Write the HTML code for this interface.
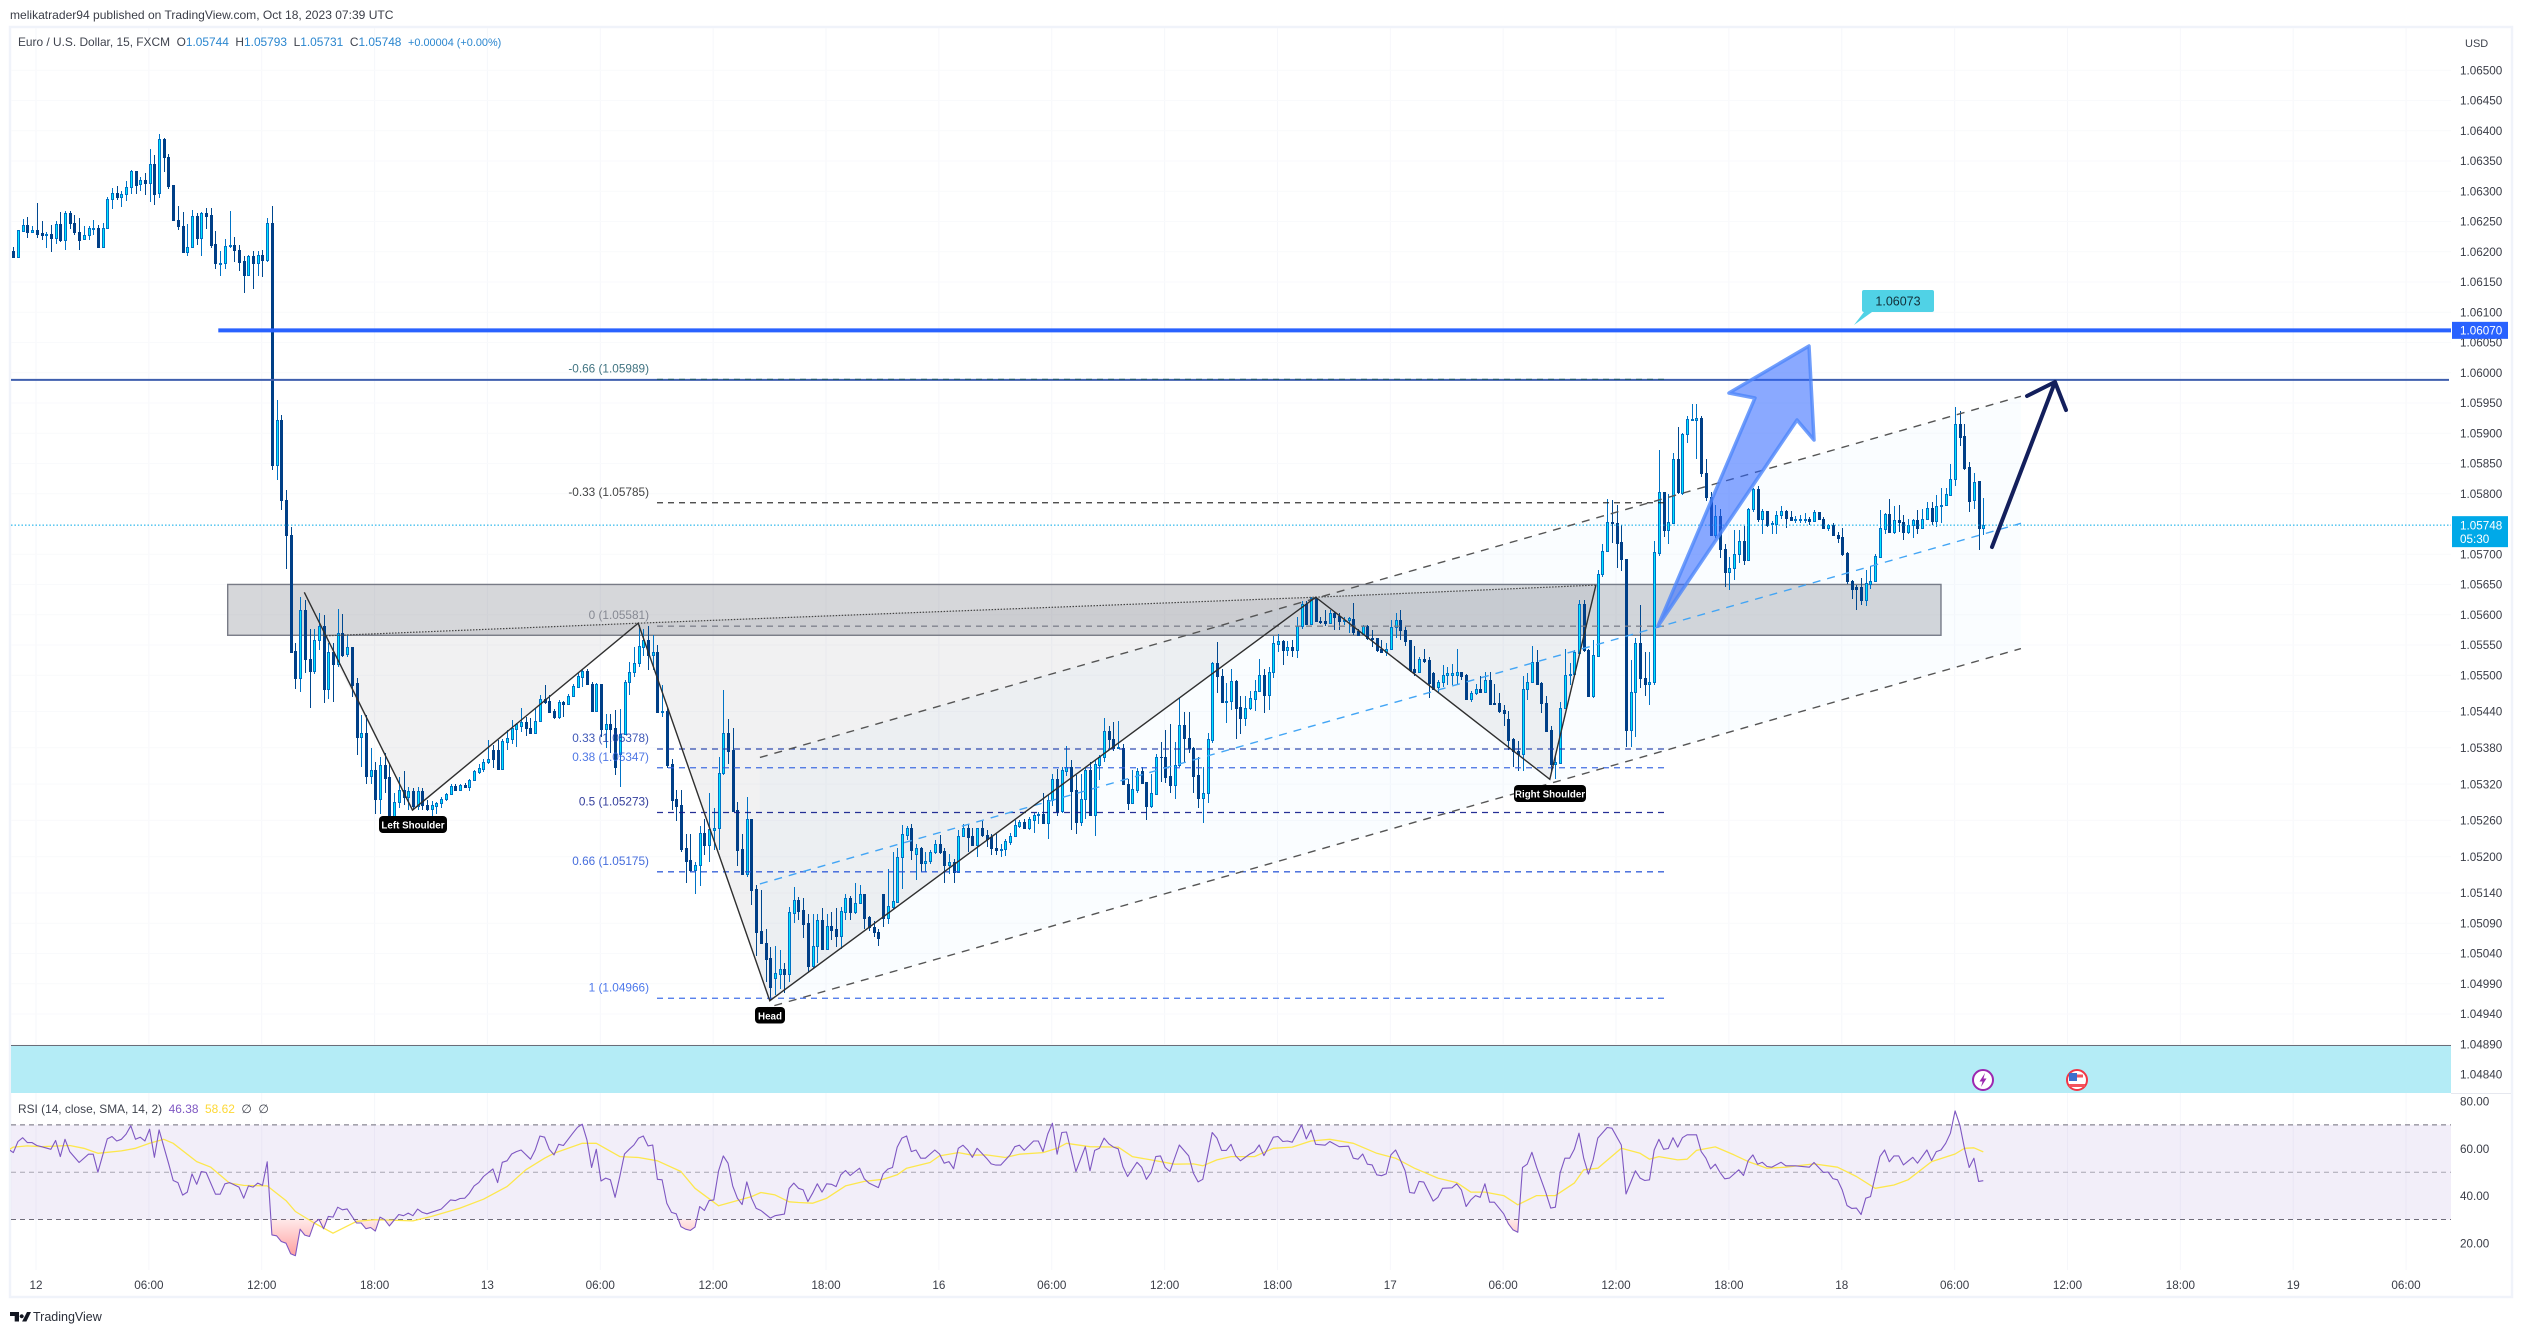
<!DOCTYPE html>
<html lang="en">
<head>
<meta charset="utf-8">
<title>EUR/USD 15m chart</title>
<style>
html,body{margin:0;padding:0;background:#fff;width:2522px;height:1334px;overflow:hidden}
svg{display:block}
text{font-family:"Liberation Sans",sans-serif}
</style>
</head>
<body>
<svg id="chart" xmlns="http://www.w3.org/2000/svg" width="2522" height="1334" viewBox="0 0 2522 1334">
  <defs>
    <linearGradient id="oversoldGrad" gradientUnits="userSpaceOnUse" x1="0" x2="0" y1="1219" y2="1260">
      <stop offset="0" stop-color="#ff5252" stop-opacity="0.12"/>
      <stop offset="1" stop-color="#ff5252" stop-opacity="0.6"/>
    </linearGradient>
    <clipPath id="belowThirty"><rect id="belowThirtyRect" x="10" y="1219" width="2441" height="60"/></clipPath>
    <clipPath id="mainClip"><rect x="10" y="28" width="2441" height="1065"/></clipPath>
    <clipPath id="rsiClip"><rect x="10" y="1094" width="2441" height="176"/></clipPath>
  </defs>

  <rect x="0" y="0" width="2522" height="1334" fill="#ffffff"/>
  <text x="10" y="19" font-size="12.05" fill="#3a3d47">melikatrader94 published on TradingView.com, Oct 18, 2023 07:39 UTC</text>
  <rect x="10" y="27" width="2502" height="1270" fill="none" stroke="#f0f3fa" stroke-width="2.4"/>

  <g id="grid"></g>
  <rect x="11" y="1045" width="2440" height="48" fill="#b4ecf6"/>
  <line x1="11" x2="2451" y1="1045.5" y2="1045.5" stroke="#6a6d78" stroke-width="1"/>
  <line x1="2451" x2="2511" y1="1093.5" y2="1093.5" stroke="#e6e8ef" stroke-width="1"/>

  <g id="fills" clip-path="url(#mainClip)"></g>
  <g id="candles" clip-path="url(#mainClip)" shape-rendering="crispEdges"></g>
  <g id="levels" clip-path="url(#mainClip)"></g>
  <g id="drawings" clip-path="url(#mainClip)"></g>

  <polygon points="1658,626 1755,398 1729,393 1809,346 1814,440 1797,420" fill="#2962ff" fill-opacity="0.55" stroke="#4d86fa" stroke-opacity="0.8" stroke-width="3.5" stroke-linejoin="round"/>
  <path d="M1992 547L2055 382M2027 396L2055 382L2066 410" fill="none" stroke="#131f5c" stroke-width="4" stroke-linecap="round" stroke-linejoin="round"/>

  <g>
    <polygon points="1864,312 1872,312 1854,325" fill="#50d2e6"/>
    <rect x="1862" y="290" width="72" height="22" rx="2" fill="#50d2e6"/>
    <text x="1898" y="305.5" font-size="12.5" fill="#12303a" text-anchor="middle">1.06073</text>
  </g>

  <g>
    <rect x="379" y="816" width="68" height="17" rx="4" fill="#000"/>
    <text x="413" y="828.5" font-size="9.8" font-weight="bold" fill="#fff" text-anchor="middle">Left Shoulder</text>
  </g>
  <g>
    <rect x="755" y="1007" width="30" height="16.5" rx="4" fill="#000"/>
    <text x="770" y="1019.5" font-size="9.8" font-weight="bold" fill="#fff" text-anchor="middle">Head</text>
  </g>
  <g>
    <rect x="1514" y="785" width="72" height="17" rx="4" fill="#000"/>
    <text x="1550" y="797.5" font-size="9.8" font-weight="bold" fill="#fff" text-anchor="middle">Right Shoulder</text>
  </g>

  <text x="18" y="46" font-size="11.9" fill="#3f434e" xml:space="preserve">Euro / U.S. Dollar, 15, FXCM  O<tspan fill="#2a86cf">1.05744</tspan>  H<tspan fill="#2a86cf">1.05793</tspan>  L<tspan fill="#2a86cf">1.05731</tspan>  C<tspan fill="#2a86cf">1.05748</tspan>  <tspan fill="#2a86cf" font-size="10.9">+0.00004 (+0.00%)</tspan></text>

  <g>
    <circle cx="1983" cy="1080" r="10" fill="#fff" stroke="#9c27b0" stroke-width="2"/>
    <path d="M1985 1073L1979.5 1081.5H1982.5L1981 1087L1986.5 1078.5H1983.5Z" fill="#9c27b0"/>
  </g>
  <g>
    <circle cx="2077" cy="1080" r="10" fill="#fff" stroke="#f23645" stroke-width="2"/>
    <rect x="2072" y="1074.5" width="11" height="3" fill="#f4525c"/>
    <rect x="2069" y="1084" width="16" height="3" fill="#f4525c"/>
    <rect x="2069" y="1073" width="8" height="8" fill="#3d6fcc"/>
  </g>

  <g id="rsiPane" clip-path="url(#rsiClip)"></g>
  <text x="18" y="1113" font-size="11.9" fill="#3f434e" xml:space="preserve">RSI (14, close, SMA, 14, 2)  <tspan fill="#7e57c2">46.38</tspan>  <tspan fill="#fdd835">58.62</tspan>  ∅  ∅</text>

  <g id="priceAxis"></g>
  <g id="rsiAxis"></g>
  <g id="timeAxis"></g>
  <text x="2465" y="47" font-size="11" fill="#3f434e">USD</text>

  <g>
    <path transform="translate(10 1312)" fill="#131722" d="M0 0h9v9.5H4.7V4H0zM17 0h4l-4.6 9.5h-4.3zM11.7 2.2a2 2 0 1 0 .01 0z"/>
    <text x="33" y="1321" font-size="12.5" fill="#2a2e39">TradingView</text>
  </g>
</svg>

<script>
// Prices are in units of 0.00001 above 1.00000 (e.g. 5744 = 1.05744).
const opens = [
6201,6192,6235,6244,6233,6236,6231,6227,6229,6222,
6246,6219,6264,6247,6232,6221,6227,6238,6239,6207,
6239,6287,6297,6290,6295,6307,6333,6312,6318,6313,
6345,6297,6386,6357,6311,6252,6243,6199,6207,6259,
6222,6264,6261,6212,6181,6181,6209,6211,6203,6185,
6161,6193,6182,6195,6187,6247,5847,5922,5790,5732,
5540,5496,5607,5527,5507,5558,5582,5478,5538,5519,
5569,5535,5546,5487,5398,5404,5333,5343,5296,5351,
5331,5266,5290,5311,5299,5308,5284,5308,5286,5279,
5284,5288,5295,5303,5317,5311,5318,5315,5327,5340,
5345,5356,5376,5376,5345,5390,5395,5411,5416,5422,
5412,5404,5425,5460,5457,5441,5431,5456,5453,5466,
5481,5497,5507,5485,5441,5485,5411,5420,5412,5369,
5403,5488,5506,5520,5547,5558,5533,5538,5440,5441,
5353,5295,5285,5214,5194,5178,5186,5240,5219,5244,
5248,5339,5405,5376,5277,5212,5172,5263,5146,5077,
5058,5032,5000,5006,5014,5006,5107,5128,5112,5090,
5020,5053,5095,5048,5085,5080,5069,5109,5131,5109,
5123,5138,5100,5084,5076,5139,5099,5117,5125,5199,
5236,5248,5205,5215,5190,5193,5207,5221,5209,5187,
5192,5175,5235,5247,5234,5219,5247,5236,5233,5215,
5212,5212,5225,5235,5251,5257,5248,5261,5270,5270,
5256,5293,5328,5275,5342,5348,5310,5258,5296,5343,
5269,5352,5364,5407,5394,5381,5380,5320,5289,5311,
5342,5323,5283,5303,5365,5365,5333,5319,5351,5418,
5397,5380,5335,5297,5305,5393,5520,5498,5455,5458,
5490,5447,5430,5445,5461,5474,5500,5468,5506,5552,
5557,5542,5546,5542,5582,5618,5585,5627,5590,5590,
5587,5602,5598,5591,5591,5593,5573,5568,5582,5562,
5561,5543,5539,5544,5579,5591,5574,5558,5510,5506,
5527,5525,5503,5481,5488,5501,5501,5501,5506,5500,
5461,5470,5477,5473,5492,5454,5454,5442,5427,5394,
5374,5370,5478,5488,5521,5487,5454,5409,5353,5355,
5445,5501,5502,5537,5617,5542,5466,5532,5668,5706,
5754,5752,5720,5692,5410,5473,5553,5496,5486,5489,
5702,5802,5740,5752,5858,5801,5898,5922,5922,5925,
5834,5795,5732,5763,5708,5671,5678,5700,5721,5691,
5775,5807,5759,5771,5750,5750,5764,5772,5761,5757,
5757,5758,5759,5755,5769,5759,5744,5748,5731,5728,
5702,5656,5645,5645,5624,5651,5655,5696,5742,5766,
5737,5756,5754,5737,5749,5756,5744,5759,5776,5755,
5779,5781,5798,5825,5916,5895,5844,5790,5821,5744];
const highs = [
6208,6236,6254,6258,6243,6281,6251,6232,6244,6251,
6266,6268,6268,6261,6256,6243,6242,6253,6244,6248,
6290,6305,6309,6301,6317,6335,6334,6324,6330,6370,
6360,6395,6388,6362,6311,6276,6266,6246,6269,6264,
6265,6273,6273,6235,6201,6221,6268,6225,6211,6193,
6195,6201,6201,6203,6256,6276,5955,5930,5806,5745,
5553,5629,5624,5577,5577,5602,5599,5553,5553,5610,
5601,5566,5546,5495,5434,5435,5379,5357,5365,5371,
5354,5305,5332,5342,5315,5313,5315,5313,5293,5292,
5291,5298,5305,5320,5320,5320,5321,5328,5344,5354,
5362,5393,5384,5393,5395,5409,5426,5421,5445,5431,
5429,5445,5467,5484,5467,5444,5459,5458,5469,5485,
5504,5510,5511,5489,5487,5485,5436,5436,5442,5444,
5492,5521,5547,5583,5577,5581,5566,5550,5484,5445,
5361,5310,5310,5238,5238,5192,5250,5262,5306,5280,
5365,5476,5428,5412,5291,5238,5299,5263,5153,5145,
5080,5051,5052,5045,5024,5117,5150,5134,5131,5106,
5105,5106,5116,5106,5108,5116,5117,5139,5135,5156,
5153,5139,5102,5093,5081,5139,5179,5208,5215,5252,
5251,5254,5221,5216,5208,5211,5228,5236,5214,5205,
5196,5244,5254,5254,5248,5248,5259,5244,5237,5237,
5221,5230,5240,5261,5261,5262,5266,5272,5274,5305,
5302,5337,5345,5349,5383,5360,5335,5337,5349,5357,
5360,5368,5430,5416,5423,5424,5386,5328,5343,5346,
5349,5323,5337,5370,5390,5409,5419,5390,5462,5440,
5440,5382,5365,5349,5404,5522,5555,5511,5487,5511,
5492,5466,5466,5474,5492,5526,5511,5513,5564,5568,
5558,5557,5558,5597,5622,5623,5629,5630,5597,5608,
5607,5605,5602,5597,5597,5619,5577,5583,5583,5575,
5561,5559,5554,5591,5602,5607,5580,5558,5548,5530,
5543,5530,5506,5492,5517,5514,5519,5544,5506,5502,
5474,5485,5499,5506,5506,5486,5470,5451,5441,5396,
5392,5498,5503,5548,5541,5488,5466,5416,5370,5455,
5544,5520,5542,5625,5625,5543,5559,5674,5717,5792,
5790,5781,5748,5692,5525,5561,5616,5539,5539,5721,
5872,5803,5800,5867,5910,5900,5928,5949,5948,5928,
5858,5803,5781,5774,5717,5696,5740,5740,5747,5776,
5809,5813,5774,5772,5755,5772,5780,5773,5772,5763,
5765,5768,5762,5773,5770,5762,5750,5751,5737,5744,
5703,5657,5649,5660,5674,5680,5701,5773,5768,5791,
5779,5781,5765,5758,5759,5773,5774,5787,5787,5798,
5810,5809,5849,5943,5936,5915,5852,5834,5821,5793];
const lows = [
6189,6189,6235,6223,6232,6222,6219,6206,6200,6213,
6216,6202,6238,6228,6203,6220,6220,6228,6206,6206,
6238,6271,6286,6274,6283,6296,6296,6301,6294,6282,
6277,6289,6331,6303,6252,6236,6199,6193,6206,6211,
6193,6238,6206,6172,6160,6172,6206,6183,6168,6132,
6160,6139,6160,6158,6183,5839,5823,5773,5676,5539,
5478,5472,5503,5445,5502,5542,5454,5460,5456,5514,
5530,5530,5464,5368,5348,5320,5320,5271,5271,5305,
5258,5263,5280,5285,5277,5277,5277,5277,5276,5263,
5271,5281,5292,5302,5310,5310,5313,5309,5325,5337,
5340,5354,5347,5345,5345,5376,5387,5382,5406,5399,
5403,5404,5425,5453,5437,5428,5428,5431,5451,5465,
5480,5481,5485,5440,5440,5398,5379,5372,5335,5316,
5401,5467,5497,5514,5531,5508,5508,5440,5431,5346,
5277,5259,5208,5156,5175,5139,5152,5203,5192,5211,
5211,5335,5353,5274,5185,5170,5166,5120,5036,5056,
4993,4963,4971,4982,4974,4993,5091,5095,5065,5010,
5015,5025,5048,5047,5063,5051,5048,5095,5095,5106,
5122,5080,5078,5068,5053,5084,5089,5112,5123,5146,
5228,5194,5162,5174,5174,5188,5205,5205,5156,5172,
5156,5174,5233,5208,5218,5200,5232,5216,5203,5203,
5199,5201,5219,5233,5248,5247,5244,5239,5254,5254,
5230,5283,5268,5272,5333,5244,5237,5251,5262,5269,
5235,5326,5356,5376,5375,5379,5318,5277,5288,5306,
5321,5260,5281,5302,5324,5321,5306,5295,5348,5357,
5372,5305,5280,5256,5289,5388,5470,5454,5421,5443,
5394,5403,5416,5442,5441,5473,5438,5443,5496,5539,
5517,5532,5530,5528,5577,5583,5583,5588,5585,5581,
5586,5574,5574,5583,5570,5566,5565,5566,5559,5547,
5539,5536,5531,5543,5561,5558,5548,5506,5498,5503,
5520,5462,5476,5473,5480,5484,5484,5484,5492,5460,
5456,5467,5470,5471,5452,5453,5437,5416,5376,5349,
5342,5342,5459,5487,5484,5437,5407,5338,5328,5354,
5444,5484,5500,5536,5539,5465,5462,5532,5663,5704,
5718,5677,5673,5382,5382,5398,5479,5466,5451,5483,
5697,5729,5717,5751,5800,5798,5884,5922,5858,5827,
5788,5732,5726,5693,5646,5641,5657,5685,5682,5690,
5770,5754,5734,5745,5734,5734,5759,5744,5756,5752,
5752,5752,5748,5754,5758,5741,5739,5730,5719,5697,
5650,5626,5607,5616,5614,5642,5654,5696,5733,5736,
5734,5737,5723,5734,5727,5733,5743,5758,5748,5745,
5752,5779,5797,5813,5879,5839,5769,5774,5707,5731];
const closes = [
6192,6236,6244,6233,6236,6230,6227,6230,6222,6246,
6219,6264,6247,6232,6220,6227,6239,6239,6207,6239,
6287,6297,6290,6295,6307,6333,6311,6318,6313,6345,
6296,6386,6356,6309,6252,6242,6199,6208,6259,6222,
6264,6259,6211,6181,6181,6209,6211,6202,6183,6162,
6193,6182,6194,6187,6247,5847,5922,5790,5732,5539,
5496,5607,5526,5507,5558,5582,5477,5538,5519,5569,
5534,5546,5484,5398,5404,5333,5343,5296,5351,5330,
5266,5290,5311,5299,5308,5284,5308,5285,5279,5285,
5288,5295,5303,5317,5311,5318,5315,5327,5341,5346,
5356,5362,5362,5345,5391,5396,5412,5419,5422,5412,
5404,5425,5460,5455,5440,5431,5456,5453,5466,5482,
5499,5507,5486,5441,5485,5411,5420,5411,5349,5403,
5489,5506,5520,5548,5558,5533,5538,5440,5441,5351,
5294,5284,5213,5193,5178,5187,5240,5219,5245,5248,
5339,5404,5375,5276,5211,5172,5263,5145,5075,5057,
5031,4984,5007,5014,5006,5108,5128,5111,5089,5020,
5053,5095,5048,5085,5079,5069,5110,5131,5109,5124,
5138,5099,5084,5076,5066,5099,5118,5126,5199,5237,
5248,5211,5215,5190,5193,5207,5221,5207,5187,5192,
5175,5235,5247,5233,5219,5247,5236,5230,5215,5211,
5212,5226,5235,5252,5257,5248,5262,5269,5270,5256,
5293,5328,5275,5343,5348,5309,5258,5296,5343,5269,
5353,5365,5407,5394,5380,5381,5320,5289,5312,5342,
5322,5283,5305,5364,5364,5331,5319,5351,5418,5397,
5379,5334,5297,5305,5394,5520,5498,5455,5458,5490,
5446,5430,5445,5462,5474,5500,5468,5506,5553,5557,
5542,5546,5542,5582,5618,5585,5627,5590,5588,5587,
5602,5597,5590,5592,5595,5572,5566,5581,5561,5560,
5542,5539,5544,5579,5591,5574,5557,5509,5506,5526,
5523,5487,5478,5488,5501,5503,5503,5506,5499,5461,
5470,5477,5472,5492,5453,5453,5441,5437,5393,5374,
5370,5478,5488,5521,5485,5454,5408,5353,5357,5445,
5501,5502,5538,5617,5542,5466,5533,5668,5706,5754,
5752,5719,5692,5410,5473,5553,5496,5486,5489,5703,
5802,5740,5753,5858,5802,5898,5923,5923,5925,5834,
5795,5732,5763,5708,5671,5678,5700,5721,5690,5775,
5807,5759,5771,5749,5751,5764,5772,5760,5757,5758,
5759,5759,5755,5769,5759,5744,5748,5731,5727,5701,
5655,5642,5643,5624,5652,5655,5697,5743,5766,5737,
5756,5754,5737,5749,5756,5744,5759,5776,5755,5779,
5782,5799,5825,5916,5894,5843,5788,5820,5744,5748];

const rsiBars = [
-1,0,1,2,3,4,5,6,8,9,
10,11,12,14,16,17,18,20,21,22,
23,24,25,26,27,28,29,30,31,32,
33,34,35,36,37,38,39,40,41,43,
44,45,46,48,49,50,51,52,53,54,
55,56,57,58,59,60,61,62,63,64,
65,66,67,68,69,70,71,73,74,75,
76,77,78,79,80,82,83,84,85,86,
87,88,89,91,93,94,95,96,97,98,
99,100,102,103,104,105,106,107,108,110,
111,112,113,114,115,116,117,119,120,121,
122,123,124,125,126,127,128,129,130,131,
132,133,134,135,136,137,138,139,140,141,
142,143,144,145,146,147,148,149,150,151,
152,153,154,155,156,157,158,159,161,162,
164,165,166,167,168,169,170,171,172,173,
174,175,176,177,178,180,181,182,184,185,
186,187,188,189,190,191,192,193,194,196,
197,198,199,200,201,202,203,204,205,206,
207,208,209,210,212,213,214,215,217,218,
219,220,221,222,223,224,226,228,229,230,
231,232,233,234,235,236,237,239,240,241,
242,243,244,245,246,248,250,251,252,253,
255,256,257,258,259,260,261,263,264,265,
266,267,268,269,270,271,272,274,275,276,
277,279,280,282,284,285,286,287,288,289,
290,291,292,293,294,295,296,297,298,299,
300,302,303,304,306,307,308,309,310,311,
312,313,314,315,317,318,319,320,321,322,
323,324,326,327,328,329,330,331,332,333,
334,335,336,337,339,340,342,343,345,346,
347,348,349,350,351,352,353,354,355,356,
358,359,360,361,362,363,364,365,367,368,
369,370,371,372,373,374,376,377,379,382,
383,384,385,386,387,388,389,390,391,392,
393,394,395,396,397,398,399,400,401,402,
404,405,407,408,409,410,411,412,413,414,
415,416,417,418,419];
const rsiValues = [
59.7,58.3,63.0,64.6,62.5,62.5,61.3,60.8,59.7,63.4,
56.6,63.9,58.7,54.1,57.6,57.6,50,64.1,65.1,63.2,
63.9,66.1,69.6,63.9,64.8,63.2,68.2,56.3,67.9,60.8,
53.8,46.5,45.6,40.3,41.6,49.3,44.9,50.3,49.9,40.7,
40.7,45.1,45.6,43.7,39,44.2,43.7,45.4,44.4,54.4,
23.5,23.1,20.7,20,15.5,14.7,25.9,23.4,22.8,28.5,
30.1,26.1,31.3,31,35.2,34.1,34.5,28.5,28.5,26.1,
26.6,25.1,31,29.9,27.3,32.1,31.6,32.7,31.6,34.4,
33,32.4,33.1,34.4,38.3,38,38.9,39,41.1,44.2,
45.6,48.2,51.4,45.6,54.2,54.8,57.7,58.7,59.4,55.5,
59.4,65.3,64.8,59.7,57.3,61.8,61.3,66.5,69,70.3,
63.7,52,59.7,46.3,47.5,46.8,39.4,48.2,57.7,59.7,
61.5,64.4,65.3,61.1,61.5,47,46.8,36.9,33,32.4,
27,25.9,25.4,26.8,35.5,33.8,38,38.3,50.6,56.9,
53.8,44.2,39,36.3,45.9,39,34.7,33.8,30.6,31.6,
32.3,43.1,45.4,43.2,42.5,37.6,41.1,45.1,41.6,45.1,
44.9,43.9,48.9,50.7,48.6,51.7,47.2,45.4,43.5,49.3,
51.3,52,60.6,64.4,65.3,58.7,59.4,55.9,55.9,59.4,
57.7,53.8,54.5,51.5,60.1,61.4,59.4,56.3,60.1,58,
55.9,53.5,53,53,57.3,60.8,61.4,59.2,63.2,63.2,
58.7,66.1,70.7,57.6,66.8,67,50.3,60.8,50.6,59.2,
60.1,64.4,62,60.6,59.9,52.4,48.2,54.2,52.1,47,
49.9,56.6,56.9,52,50.3,61.5,56.9,49.6,45.9,47,
66.8,64.4,59.2,59.2,61.8,56.9,54.8,57.7,58.7,61.5,
57,60.8,64.8,65.1,63,63.2,62.7,70,64.1,67.9,
61.8,61.4,63,60.8,61,55.9,55.5,57.7,53.4,53.1,
48.9,48.5,49.3,57.3,59.4,55.2,50.7,41.4,41.1,46.1,
45.8,37.8,39.4,43.2,43.4,45.1,42.5,35.5,38.3,40.1,
39.4,45.1,37.3,37.3,32.4,28.2,25.6,24.6,52,53.4,
58.4,52.1,41.1,34.8,35.2,49.6,55.9,55.9,59.7,66.5,
55.9,49.2,55.2,64.4,68.9,68.6,61.5,40.8,50.6,47.5,
46.5,46.8,59.4,63.9,59.7,60,64.6,60.6,64.6,65.8,
65.8,58.7,55.9,51.4,53.4,49.9,47.2,47.5,51,48.6,
54.9,57.3,53.4,54.2,52.4,52.1,54.2,52.7,52.7,52.1,
54.1,52,49.9,50.1,47.3,46.8,42.5,35.9,34.7,34.8,
32.1,39,39.7,48.2,56.6,59.4,54.4,56.9,56.9,53.1,
56.3,53.8,59.4,54.9,58.7,59.4,62.2,66.5,75.9,70,
60.1,52,55.9,46.1,46.4];

// RSI moving average: bar index and value.
const maBars = [
-1,0,3,6,12,15,18,23,26,29,
32,34,39,42,46,49,54,58,60,64,
68,73,77,85,89,95,100,105,109,113,
115,121,124,129,133,137,142,145,150,157,
159,162,165,167,170,173,177,181,185,188,
190,195,197,201,204,207,211,214,219,222,
224,229,235,238,242,247,251,253,256,259,
264,268,272,276,280,285,290,294,298,303,
307,310,313,317,320,324,328,332,334,337,
342,346,348,350,354,356,358,362,366,369,
373,377,383,388,392,396,400,403,408,413,
415,417,419];
const maValues = [
59.4,60.6,61.1,60.8,61.3,60.1,58,59,60.1,62.2,
63.9,62.2,54.5,52.1,45.4,44.4,44.2,38,33.4,28.5,
24.2,29.2,29.9,29.4,31.3,34.8,38.6,43.9,51,55.9,
58,62.2,62.2,56.6,56.2,54.8,50.3,43.2,35.8,39.7,
41.4,40.4,37.5,37.2,36.9,39,44.2,46.1,47,48.9,
51.7,54.1,56.9,58.3,57.2,57.3,56.2,57.6,58.3,60.1,
62.2,60.8,60.6,56.6,55.2,53.4,53.5,52.7,55.2,56.6,
56.6,60.1,60.6,63.2,63.9,62.2,58,55.9,51.7,47.5,
45.6,41.6,41.6,40.1,36.2,40.1,40.1,45.4,51,51.7,
60.1,58,55.5,56.6,55.2,55.5,59.2,60.7,57.3,54.5,
51.7,52.1,53.5,52.1,48.2,43.2,44.6,46.8,54.5,57.7,
60.1,60.3,58.6];

// Axis tick labels.
const priceTicks = ["1.06500","1.06450","1.06400","1.06350","1.06300","1.06250","1.06200","1.06150","1.06100","1.06050","1.06000","1.05950","1.05900","1.05850","1.05800","1.05700","1.05650","1.05600","1.05550","1.05500","1.05440","1.05380","1.05320","1.05260","1.05200","1.05140","1.05090","1.05040","1.04990","1.04940","1.04890","1.04840"];
const rsiTicks = ["80.00","60.00","40.00","20.00"];
const timeTickLabels = ["12","06:00","12:00","18:00","13","06:00","12:00","18:00","16","06:00","12:00","18:00","17","06:00","12:00","18:00","18","06:00","12:00","18:00","19","06:00"];
const timeTickSlots = [0,1,2,3,4,5,6,7,8,9,10,11,12,13,14,15,16,17,18,19,20,21];

// Fibonacci retracement levels.
const fibRatios = ["-0.66","-0.33","0","0.33","0.38","0.5","0.66","1"];
const fibPrices = [5989,5785,5581,5378,5347,5273,5175,4966];
const fibColors = ["#1f5a6b","#222222","#787b86","#1c3aa9","#2f5fe0","#0d1a8a","#2352d6","#2f62e8"];

// Horizontal levels and last price.
const resistancePrice = 6070;
const fibExtensionPrice = 5989;
const lastPrice = 5748;

// Drawing anchors expressed as bar index / price.
const patternBars = [61.9,84.9,132.9,160.9,277,326.8,336.6];
const patternPrices = [5637,5277,5586,4962,5629,5328,5649];
const necklineBars = [65.9,132.9,277,336.6];
const necklinePrices = [5565,5586,5629,5649];
const channelBars = [158.8,427];
const channelUpper = [5364,5961];
const channelMiddle = [5155,5751];
const channelLower = [4947,5544];
const zoneBars = [45.6,410];
const zonePrices = [5650,5566];

// Axis functions.
const barCount = closes.length;
function xScale(bar){ return 13.3 + bar * 1970 / (barCount - 1); }
function yScale(points){ return 372.7 + (6000 - points) * 0.605; }
function rsiY(value){ return 1172.2 - (value - 50) * 2.365; }
function timeX(slot){ return 36 + slot * 112.86; }
function priceToPoints(label){ return (parseFloat(label) - 1) * 100000; }

const SVGNS = 'http://www.w3.org/2000/svg';
function make(parent, tag, attrs){
  const el = document.createElementNS(SVGNS, tag);
  for (const k in attrs) el.setAttribute(k, attrs[k]);
  parent.appendChild(el);
  return el;
}
function pts(bars, values, fx, fy){
  return bars.map((b, i) => fx(b).toFixed(1) + ',' + fy(values[i]).toFixed(1)).join(' ');
}

// Grid
const grid = document.getElementById('grid');
timeTickSlots.forEach(function(slot){
  const gl = make(grid, 'line', {x1: timeX(slot), x2: timeX(slot), y1: 28, y2: 1270, stroke: '#f6f7fb', 'stroke-width': 1});
  
  
});
priceTicks.forEach(function(t){
  const gl = make(grid, 'line', {x1: 11, x2: 2451, y1: yScale(priceToPoints(t)), y2: yScale(priceToPoints(t)), stroke: '#f9fafc', 'stroke-width': 1});
  
  
});

// Fills under candles
const fills = document.getElementById('fills');
const zone = make(fills, 'rect', {
  x: xScale(zoneBars[0]), y: yScale(zonePrices[0]),
  width: xScale(zoneBars[1]) - xScale(zoneBars[0]),
  height: yScale(zonePrices[1]) - yScale(zonePrices[0]),
  fill: '#787b86', 'fill-opacity': 0.3, stroke: '#787b86', 'stroke-width': 1.4
});



const channelFillBars = channelBars.concat(channelBars.slice().reverse());
const channelFillPrices = channelUpper.concat(channelLower.slice().reverse());
const channelFill = make(fills, 'polygon', {points: pts(channelFillBars, channelFillPrices, xScale, yScale), fill: '#2196f3', 'fill-opacity': 0.022});



const wedgeBars = [
  [necklineBars[0], patternBars[1], patternBars[2]],
  [patternBars[2], patternBars[3], patternBars[4]],
  [patternBars[4], patternBars[5], patternBars[6]]
];
const wedgePrices = [
  [necklinePrices[0], patternPrices[1], patternPrices[2]],
  [patternPrices[2], patternPrices[3], patternPrices[4]],
  [patternPrices[4], patternPrices[5], patternPrices[6]]
];
wedgeBars.forEach(function(b, i){
  const w = make(fills, 'polygon', {points: pts(b, wedgePrices[i], xScale, yScale), fill: '#787b86', 'fill-opacity': 0.105});
  
  
});

// Candles
const candleLayer = document.getElementById('candles');
closes.forEach(function(close, i){
  const up = close >= opens[i];
  const X = Math.round(xScale(i)) - 1;
  const yTop = Math.round(yScale(Math.max(opens[i], close)));
  const yBot = Math.round(yScale(Math.min(opens[i], close)));
  const yHi = Math.round(yScale(highs[i]));
  const yLo = Math.round(yScale(lows[i]));
  const g = make(candleLayer, 'g', {});
  
  
  const wick = make(g, 'rect', {x: X + 1, y: yHi, width: 1, height: Math.max(1, yLo - yHi), fill: up ? '#0073c6' : '#00488f'});
  
  
  const body = up
    ? make(g, 'rect', {x: X + 0.5, y: yTop + 0.5, width: 2, height: Math.max(1, yBot - yTop), fill: '#00e5ff', stroke: '#0073c6', 'stroke-width': 1})
    : make(g, 'rect', {x: X, y: yTop, width: 3, height: Math.max(1, yBot - yTop + 1), fill: '#003f87'});
  
  
});

// Price levels
const levels = document.getElementById('levels');
const resistanceY = yScale(resistancePrice);
const resistance = make(levels, 'line', {x1: xScale(43.6), x2: 2451, y1: resistanceY, y2: resistanceY, stroke: '#2962ff', 'stroke-width': 4});


const extensionY = yScale(fibExtensionPrice) + 0.5;
const extension = make(levels, 'line', {x1: 11, x2: 2449, y1: extensionY, y2: extensionY, stroke: '#3f5fae', 'stroke-width': 2});


const lastY = yScale(lastPrice);
const lastLine = make(levels, 'line', {x1: 11, x2: 2451, y1: lastY, y2: lastY, stroke: '#00a9e8', 'stroke-width': 1, 'stroke-dasharray': '1.5 2'});



fibPrices.forEach(function(price, i){
  const y = yScale(price);
  const line = make(levels, 'line', {x1: 657, x2: 1664, y1: y, y2: y, stroke: fibColors[i], 'stroke-width': 1.3, 'stroke-opacity': 0.9, 'stroke-dasharray': '6 5'});
  
  
  const label = make(levels, 'text', {x: 649, y: y - 7, 'font-size': 11.8, fill: fibColors[i], 'fill-opacity': 0.85, 'text-anchor': 'end'});
  
  
  label.textContent = fibRatios[i] + ' (1.0' + price + ')';
});

// Channel and pattern lines
const drawings = document.getElementById('drawings');
[channelUpper, channelMiddle, channelLower].forEach(function(prices, idx){
  const ln = make(drawings, 'line', {
    x1: xScale(channelBars[0]), y1: yScale(prices[0]),
    x2: xScale(channelBars[1]), y2: yScale(prices[1]),
    stroke: idx === 1 ? '#42a5f5' : '#555555', 'stroke-width': 1.4, 'stroke-dasharray': '8 7'
  });
  
  
});
const neckline = make(drawings, 'polyline', {points: pts(necklineBars, necklinePrices, xScale, yScale), fill: 'none', stroke: '#444444', 'stroke-width': 1.2, 'stroke-dasharray': '1.5 1.5'});


const pattern = make(drawings, 'polyline', {points: pts(patternBars, patternPrices, xScale, yScale), fill: 'none', stroke: '#2f2f2f', 'stroke-width': 1.4, 'stroke-linejoin': 'miter'});



// Price axis
const priceAxis = document.getElementById('priceAxis');
priceTicks.forEach(function(t){
  const lab = make(priceAxis, 'text', {x: 2460, y: yScale(priceToPoints(t)) + 4.2, 'font-size': 11.7, fill: '#3a3d47'});
  
  
  lab.textContent = t;
});
const resBox = make(priceAxis, 'rect', {x: 2452, y: resistanceY - 8.5, width: 56, height: 17, fill: '#2962ff'});


const resText = make(priceAxis, 'text', {x: 2460, y: resistanceY + 4.2, 'font-size': 11.7, fill: '#ffffff'});


resText.textContent = '1.0' + resistancePrice;
const lastBox = make(priceAxis, 'rect', {x: 2452, y: lastY - 9, width: 56, height: 31, fill: '#00a9e8'});


const lastText = make(priceAxis, 'text', {x: 2460, y: lastY + 4.2, 'font-size': 11.7, fill: '#ffffff'});


lastText.textContent = '1.0' + lastPrice;
const countdown = make(priceAxis, 'text', {x: 2460, y: lastY + 18, 'font-size': 11.7, fill: '#ffffff'});


countdown.textContent = '05:30';

// RSI pane
const rsiPane = document.getElementById('rsiPane');
const rsiBand = make(rsiPane, 'rect', {x: 11, y: rsiY(70), width: 2440, height: rsiY(30) - rsiY(70), fill: '#7e57c2', 'fill-opacity': 0.1});


[70, 50, 30].forEach(function(level){
  const l = make(rsiPane, 'line', {x1: 11, x2: 2451, y1: rsiY(level), y2: rsiY(level), stroke: level === 50 ? '#a8a6b2' : '#6f6c7a', 'stroke-width': 1, 'stroke-dasharray': '5 4'});
  
  
});
document.getElementById('belowThirtyRect').setAttribute('y', rsiY(30));
const oversoldBars = [rsiBars[0]].concat(rsiBars, [rsiBars[rsiBars.length - 1]]);
const oversoldValues = [30].concat(rsiValues, [30]);
const oversold = make(rsiPane, 'polygon', {points: pts(oversoldBars, oversoldValues, xScale, rsiY), fill: 'url(#oversoldGrad)', 'clip-path': 'url(#belowThirty)'});


const maLine = make(rsiPane, 'polyline', {points: pts(maBars, maValues, xScale, rsiY), fill: 'none', stroke: '#fde74c', 'stroke-width': 1.3, 'stroke-linejoin': 'round'});


const rsiLine = make(rsiPane, 'polyline', {points: pts(rsiBars, rsiValues, xScale, rsiY), fill: 'none', stroke: '#7e57c2', 'stroke-width': 1.1, 'stroke-linejoin': 'round'});



const rsiAxis = document.getElementById('rsiAxis');
rsiTicks.forEach(function(t){
  const lab = make(rsiAxis, 'text', {x: 2460, y: rsiY(parseFloat(t)) + 4.2, 'font-size': 11.7, fill: '#3a3d47'});
  
  
  lab.textContent = t;
});

// Time axis
const timeAxis = document.getElementById('timeAxis');
timeTickSlots.forEach(function(slot, i){
  const lab = make(timeAxis, 'text', {x: timeX(slot), y: 1289, 'font-size': 11.7, fill: '#3a3d47', 'text-anchor': 'middle'});
  
  
  lab.textContent = timeTickLabels[i];
});
</script>
</body>
</html>
